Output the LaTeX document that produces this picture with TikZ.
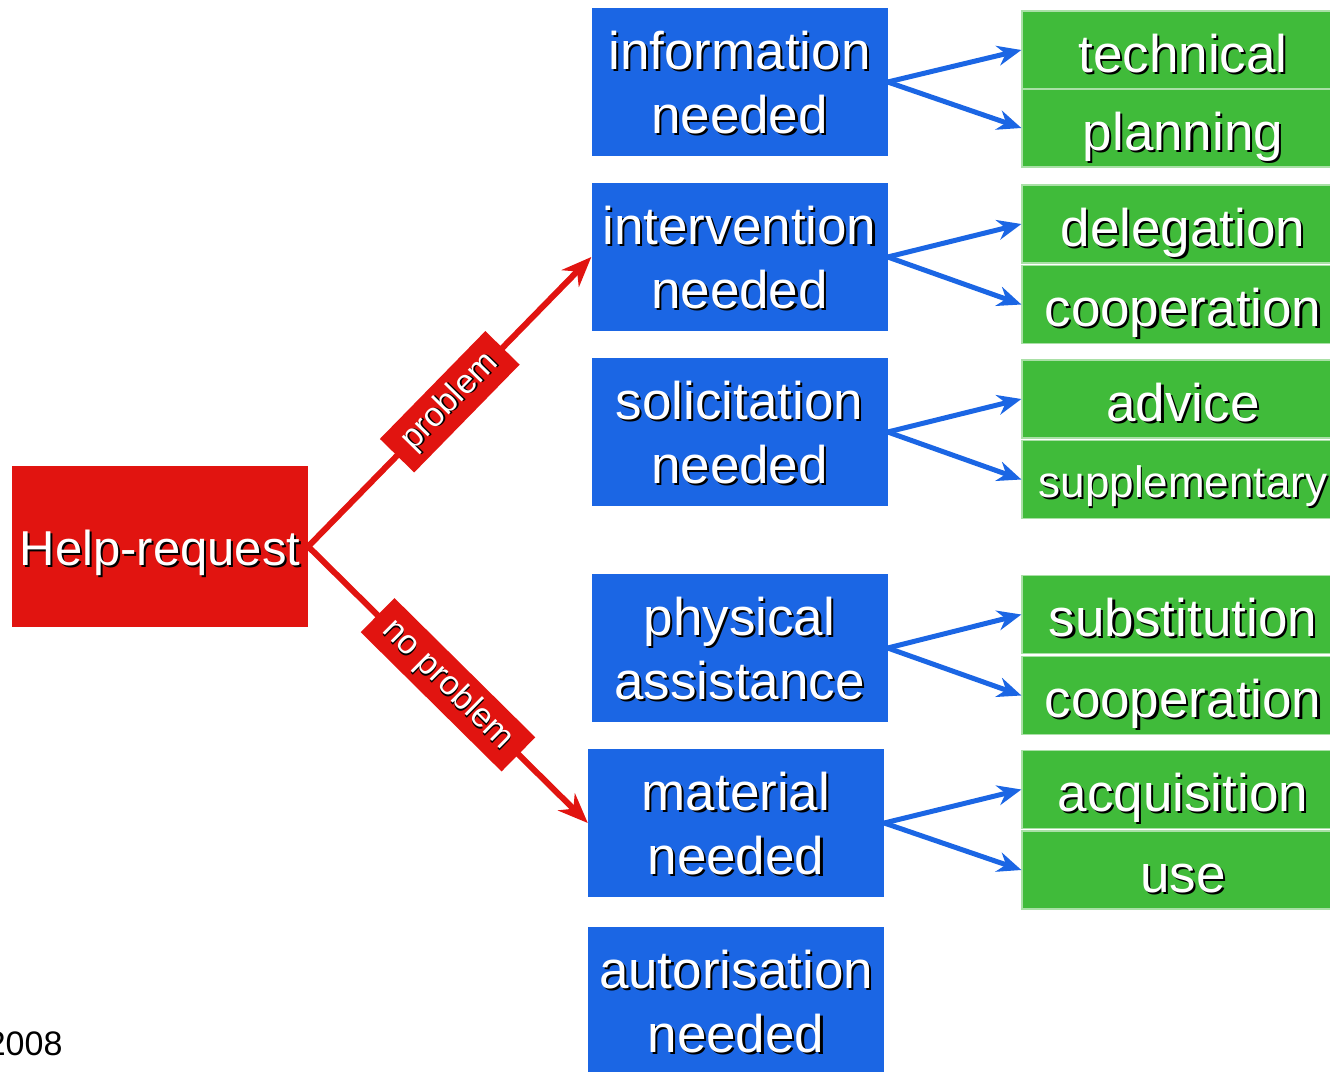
\documentclass[tikz,border=0pt]{standalone}
\usepackage{fontspec}
\setmainfont{Liberation Sans}
\usepackage{xcolor}
\usepackage{tikz}
\usetikzlibrary{arrows.meta}

\definecolor{reqred}{RGB}{225,20,16}
\definecolor{needblue}{RGB}{27,102,228}
\definecolor{kindgreen}{RGB}{64,187,58}

% white text with a small dark drop shadow
\newcommand{\shadowed}[1]{\leavevmode\rlap{\kern0.04em\raisebox{-0.04em}{\textcolor{black}{#1}}}#1}

\begin{document}
\begin{tikzpicture}[x=1pt, y=-1pt,
    request/.style={rectangle, fill=reqred, text=white, minimum width=296pt, minimum height=161pt, inner sep=0pt, font=\fontsize{49}{58}\selectfont, text height=38pt, text depth=0pt},
    need/.style={rectangle, fill=needblue, text=white, align=center, minimum width=296pt, minimum height=148pt, inner sep=0pt, font=\fontsize{53}{64}\selectfont, text depth=-8pt},
    kind/.style={rectangle, fill=kindgreen, draw=kindgreen!45!white, line width=1.2pt, text=white, minimum width=322pt, minimum height=78pt, inner sep=0pt, font=\fontsize{53}{64}\selectfont, text height=44pt, text depth=0pt},
    tag/.style={rectangle, fill=reqred, text=white, sloped, inner xsep=14pt, inner ysep=8pt, font=\fontsize{34}{40}\selectfont, text height=25pt, text depth=7pt},
    arrow/.style={-{Stealth[length=30pt, width=24pt]}, line width=6pt, reqred},
    branch/.style={-{Stealth[length=24pt, width=20pt]}, line width=5pt, needblue}
]
\clip (0,0) rectangle (1330,1071);

% Components
\node[request] (help) at (160,546.5) {\shadowed{Help-request}};

\node[need] (info)   at (739.5,82)  {\shadowed{information}\\\shadowed{needed}};
\node[need] (interv) at (739.5,257) {\shadowed{intervention}\\\shadowed{needed}};
\node[need] (solic)  at (739.5,432) {\shadowed{solicitation}\\\shadowed{needed}};
\node[need] (phys)   at (739.5,648) {\shadowed{physical}\\\shadowed{assistance}};
\node[need] (mater)  at (736,823)   {\shadowed{material}\\\shadowed{needed}};
\node[need] (autor)  at (736,1001)  {\shadowed{autorisation}\\\shadowed{needed}};

\node[kind] (techn) at (1183,50)    {\shadowed{technical}};
\node[kind] (plann) at (1183,128)   {\shadowed{planning}};
\node[kind] (deleg) at (1183,224)   {\shadowed{delegation}};
\node[kind] (coopa) at (1183,304.5) {\shadowed{cooperation}};
\node[kind] (advic) at (1183,399)   {\shadowed{advice}};
\node[kind, font=\fontsize{44}{52}\selectfont, text height=36pt] (suppl) at (1183,479.5) {\shadowed{supplementary}};
\node[kind] (subst) at (1183,614.5) {\shadowed{substitution}};
\node[kind] (coopb) at (1183,695.5) {\shadowed{cooperation}};
\node[kind] (acqui) at (1183,789.5) {\shadowed{acquisition}};
\node[kind] (usage) at (1183,870)   {\shadowed{use}};

\node[anchor=base east, font=\fontsize{34}{40}\selectfont] (year) at (66,1055) {2008};

% Arrows
\draw[arrow] (help.east) -- node[tag] {\shadowed{problem}} (interv.west);
\draw[arrow] (help.east) -- node[tag] {\shadowed{no problem}} (mater.west);

\draw[branch] (info.east) -- (techn.west);
\draw[branch] (info.east) -- (plann.west);
\draw[branch] (interv.east) -- (deleg.west);
\draw[branch] (interv.east) -- (coopa.west);
\draw[branch] (solic.east) -- (advic.west);
\draw[branch] (solic.east) -- (suppl.west);
\draw[branch] (phys.east) -- (subst.west);
\draw[branch] (phys.east) -- (coopb.west);
\draw[branch] (mater.east) -- (acqui.west);
\draw[branch] (mater.east) -- (usage.west);

\end{tikzpicture}
\end{document}
